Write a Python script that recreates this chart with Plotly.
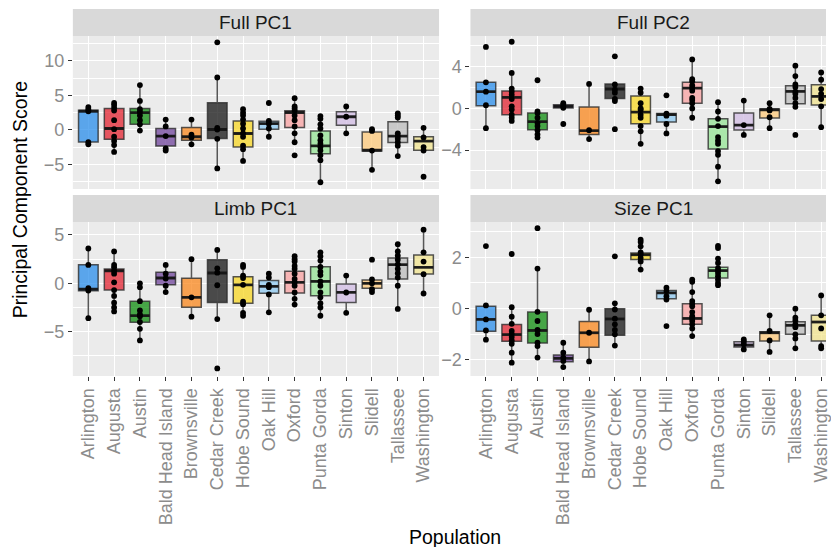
import plotly.graph_objects as go

# ---------------- data ----------------
POPULATIONS = ["Arlington", "Augusta", "Austin", "Bald Head Island", "Brownsville",
               "Cedar Creek", "Hobe Sound", "Oak Hill", "Oxford", "Punta Gorda",
               "Sinton", "Slidell", "Tallassee", "Washington"]

FILL_COLORS = [(42, 142, 235), (227, 35, 48), (15, 142, 15), (112, 68, 156),
               (249, 135, 28), (20, 20, 20), (248, 215, 35), (142, 202, 242),
               (249, 162, 162), (148, 228, 148), (209, 188, 228), (255, 202, 122),
               (188, 188, 188), (242, 228, 142)]

# Full PC1
FULL_PC1_POINTS = [
    [3.3, 3.0, 2.7, -1.8, -2.1],
    [3.9, 3.6, 3.2, 2.8, 1.4, 0.1, -1.0, -1.6, -2.2, -3.2],
    [6.5, 4.2, 3.0, 2.6, 2.1, 1.4, 0.8, -0.1],
    [1.5, 0.5, -0.9, -2.7, -3.0],
    [1.5, -0.7, -1.1, -2.1],
    [12.7, 7.6, 0.3, 0.05, -1.3, -5.6],
    [3.0, 2.5, 2.1, 1.5, 0.9, 0.2, -0.5, -1.0, -2.3, -2.8, -4.5],
    [3.9, 1.3, 0.9, 0.2, -1.0],
    [4.6, 3.4, 3.1, 2.8, 2.1, 1.4, 0.5, -0.5, -1.8, -3.7],
    [2.0, 1.6, 0.8, 0.2, -0.8, -1.5, -2.0, -2.5, -3.0, -3.7, -4.4, -7.6],
    [3.4, 1.9, -0.5],
    [0.1, -0.15, -3.0, -5.8],
    [2.4, 2.1, 1.8, -0.5, -0.9, -1.3, -1.8, -2.3, -3.8],
    [0.3, -1.1, -2.5, -3.0, -6.8],
]
FULL_PC1_Q1 = [-1.75, -1.36, 0.83, -2.33, -1.5, -1.26, -2.5, 0.1, 0.34, -3.45, 0.68, -3.06, -1.84, -2.94]
FULL_PC1_MED = [2.7, 0.2, 2.5, -0.92, -1.0, 0.05, -0.53, 0.92, 2.52, -2.33, 1.9, -2.96, -0.92, -1.64]
FULL_PC1_Q3 = [2.85, 3.1, 3.1, 0.19, 0.34, 3.93, 1.3, 1.26, 2.77, -0.15, 2.62, -0.3, 1.17, -1.01]
FULL_PC1_LO = [-2.1, -3.2, -0.1, -3.0, -2.1, -5.6, -4.5, -1.0, -1.8, -7.6, -0.5, -5.8, -3.8, -3.0]
FULL_PC1_HI = [3.3, 3.9, 6.5, 1.5, 1.5, 7.6, 3.0, 1.3, 4.6, 2.0, 3.4, 0.1, 2.4, 0.3]

# Full PC2
FULL_PC2_POINTS = [
    [5.9, 2.5, 1.6, 0.3, -1.9],
    [6.4, 3.4, 1.9, 1.6, 1.3, 0.9, 0.2, -0.1, -0.6, -0.9, -1.2],
    [2.7, -0.3, -0.45, -0.9, -1.4, -1.7, -2.1, -2.5, -2.8],
    [0.5, 0.35, 0.2, 0.05, -1.5],
    [2.35, -2.1, -2.95],
    [5.0, 2.3, 1.8, 1.5, 0.9, 0.7, -2.0],
    [1.9, 1.5, 0.5, 0.0, -0.15, -0.6, -0.9, -1.7, -2.2, -3.4],
    [1.25, -0.5, -0.7, -1.5, -2.4],
    [4.7, 2.8, 2.6, 2.2, 1.95, 1.7, 1.0, 0.8, 0.5, 0.0, -0.9],
    [0.6, -0.3, -1.0, -1.7, -2.75, -3.1, -3.4, -4.1, -4.45, -5.6, -7.0],
    [0.75, -1.6, -2.55],
    [0.5, -0.05, -0.2, -0.85, -1.9],
    [4.1, 3.1, 2.3, 2.05, 1.6, 1.4, 1.0, 0.5, 0.15, -2.55],
    [3.45, 2.75, 1.85, 1.4, 0.9, 0.2, -1.8],
]
FULL_PC2_Q1 = [0.26, -0.6, -2.05, 0.03, -2.5, 0.96, -1.47, -1.3, 0.5, -3.9, -2.07, -0.93, 0.45, 0.32]
FULL_PC2_MED = [1.6, 1.05, -1.28, 0.19, -2.14, 1.86, -0.35, -0.6, 1.95, -1.75, -1.6, -0.13, 1.63, 1.15]
FULL_PC2_Q3 = [2.5, 1.66, -0.45, 0.35, 0.13, 2.34, 1.2, -0.5, 2.5, -1.0, -0.45, -0.06, 2.18, 2.27]
FULL_PC2_LO = [-1.9, -1.2, -2.8, 0.03, -2.95, 0.96, -3.4, -2.4, -0.9, -7.0, -2.55, -1.9, 0.13, -1.8]
FULL_PC2_HI = [2.5, 3.4, -0.3, 0.5, 2.35, 2.34, 1.9, -0.5, 4.7, 0.6, 0.75, 0.5, 4.1, 3.45]

# Limb PC1
LIMB_PC1_POINTS = [
    [3.6, 1.9, -0.5, -0.75, -3.6],
    [3.3, 1.9, 1.65, 1.3, 1.0, 0.1, -0.7, -1.3, -2.0, -2.5, -2.9],
    [0.0, -0.4, -1.85, -2.8, -3.2, -3.4, -4.0, -4.7, -5.9],
    [1.9, 1.0, 0.5, -0.25, -0.9],
    [2.5, -1.45, -3.45],
    [3.45, 1.55, 1.1, -0.2, -3.7, -8.8],
    [1.9, 1.7, 0.8, 0.55, -0.15, -1.9, -2.15, -3.05, -3.35],
    [1.0, 0.6, -0.15, -0.4, -1.15, -3.0],
    [2.8, 2.5, 2.25, 1.8, 1.5, 1.0, 0.45, 0.1, -0.25, -0.95, -1.6, -2.2],
    [3.2, 2.8, 2.35, 1.7, 1.2, 0.85, 0.2, -0.25, -0.95, -1.45, -2.05, -2.5, -3.35],
    [0.8, -0.95, -3.05],
    [2.45, 0.4, 0.0, -0.6, -0.9],
    [4.05, 3.3, 2.85, 2.45, 1.95, 1.5, 1.05, 0.6, -0.25, -2.65],
    [5.55, 3.2, 2.25, 0.95, -1.05],
]
LIMB_PC1_Q1 = [-0.76, -0.69, -4.03, -0.14, -2.48, -1.97, -2.07, -1.03, -1.0, -1.28, -1.97, -0.52, 0.45, 0.97]
LIMB_PC1_MED = [-0.59, 1.3, -3.34, 0.55, -1.45, 1.07, -0.17, -0.31, 0.1, 0.2, -0.93, 0.0, 1.93, 1.65]
LIMB_PC1_Q3 = [1.93, 1.48, -1.86, 1.14, 0.52, 2.45, 0.69, 0.28, 1.24, 1.72, -0.07, 0.34, 2.62, 2.94]
LIMB_PC1_LO = [-3.6, -2.9, -5.9, -0.9, -3.45, -3.7, -3.35, -3.0, -2.2, -3.35, -3.05, -0.9, -2.65, -1.05]
LIMB_PC1_HI = [3.6, 3.3, 0.0, 1.9, 2.5, 3.45, 1.9, 1.0, 2.8, 3.2, 0.8, 0.4, 4.05, 5.55]

# Size PC1
SIZE_PC1_POINTS = [
    [2.44, 0.12, -0.43, -0.86, -1.22],
    [2.13, 0.05, -0.32, -0.6, -0.88, -1.0, -1.12, -1.25, -1.38, -1.73, -2.12],
    [3.14, 1.56, -0.13, -0.49, -0.84, -1.0, -1.34, -1.47, -1.92],
    [-1.34, -1.73, -1.92, -2.05, -2.29],
    [-0.05, -0.95, -2.07],
    [2.04, 0.2, -0.04, -0.4, -0.62, -0.84, -1.01, -1.45],
    [2.69, 2.6, 2.43, 2.19, 2.1, 1.97, 1.84, 1.52],
    [0.81, 0.68, 0.48, 0.35, -0.69],
    [1.13, 1.04, 0.64, 0.29, 0.18, 0.09, -0.14, -0.3, -0.39, -0.49, -0.62, -0.78, -1.08],
    [2.45, 2.36, 1.95, 1.78, 1.58, 1.48, 1.39, 1.26, 1.13, 1.0, 0.91],
    [-1.21, -1.3, -1.4, -1.6],
    [-0.27, -0.88, -1.25, -1.7],
    [-0.01, -0.36, -0.47, -0.62, -0.73, -1.01, -1.17, -1.56],
    [0.51, -0.27, -0.78, -1.47, -1.56],
]
SIZE_PC1_Q1 = [-0.89, -1.28, -1.35, -2.08, -1.52, -1.05, 1.91, 0.38, -0.62, 1.19, -1.51, -1.27, -1.01, -1.27]
SIZE_PC1_MED = [-0.43, -1.02, -0.86, -1.95, -0.95, -0.41, 2.1, 0.61, -0.39, 1.48, -1.43, -0.95, -0.66, -0.53]
SIZE_PC1_Q3 = [0.09, -0.63, -0.14, -1.82, -0.51, -0.01, 2.17, 0.7, 0.18, 1.61, -1.3, -0.91, -0.52, -0.27]
SIZE_PC1_LO = [-1.22, -2.12, -1.92, -2.29, -2.07, -1.45, 1.52, 0.35, -1.08, 0.91, -1.6, -1.7, -1.56, -1.56]
SIZE_PC1_HI = [0.12, 0.05, 1.56, -1.34, -0.05, 0.2, 2.69, 0.81, 1.13, 1.95, -1.21, -0.27, -0.01, 0.51]

PANEL_TITLES = ["Full PC1", "Full PC2", "Limb PC1", "Size PC1"]
Y_RANGES = [[-8.58, 13.62], [-7.74, 6.95], [-9.58, 6.34], [-2.64, 3.38]]
Y_DTICKS = [5, 4, 5, 2]

# ---------------- layout geometry (pixels) ----------------
W, H = 831, 547
LEFT_X = (73.3, 441.7)
RIGHT_X = (473.3, 841.7)       # full panel width, clipped by the window at 831
TOP_Y = (36, 189)
BOT_Y = (222, 376)
STRIP_H = 27

FONT = "Liberation Sans, Arial, Helvetica, sans-serif"
TICK_COLOR = "#8c8c8c"

panels = [
    dict(title=PANEL_TITLES[0], pts=FULL_PC1_POINTS, q1=FULL_PC1_Q1, med=FULL_PC1_MED,
         q3=FULL_PC1_Q3, lo=FULL_PC1_LO, hi=FULL_PC1_HI, xs=LEFT_X, ys=TOP_Y, bottom=False),
    dict(title=PANEL_TITLES[1], pts=FULL_PC2_POINTS, q1=FULL_PC2_Q1, med=FULL_PC2_MED,
         q3=FULL_PC2_Q3, lo=FULL_PC2_LO, hi=FULL_PC2_HI, xs=RIGHT_X, ys=TOP_Y, bottom=False),
    dict(title=PANEL_TITLES[2], pts=LIMB_PC1_POINTS, q1=LIMB_PC1_Q1, med=LIMB_PC1_MED,
         q3=LIMB_PC1_Q3, lo=LIMB_PC1_LO, hi=LIMB_PC1_HI, xs=LEFT_X, ys=BOT_Y, bottom=True),
    dict(title=PANEL_TITLES[3], pts=SIZE_PC1_POINTS, q1=SIZE_PC1_Q1, med=SIZE_PC1_MED,
         q3=SIZE_PC1_Q3, lo=SIZE_PC1_LO, hi=SIZE_PC1_HI, xs=RIGHT_X, ys=BOT_Y, bottom=True),
]

n = len(POPULATIONS)
BOX_W = 0.76
px_per_unit = (LEFT_X[1] - LEFT_X[0]) / (n - 1 + 1.2)

fig = go.Figure()
layout = dict(
    width=W, height=H, autosize=False,
    margin=dict(l=0, r=0, t=0, b=0, pad=0),
    paper_bgcolor="white", plot_bgcolor="#ebebeb",
    showlegend=False, boxmode="overlay",
    font=dict(family=FONT),
    shapes=[], annotations=[],
)

for k, p in enumerate(panels):
    sfx = "" if k == 0 else str(k + 1)
    xa, ya = "x" + sfx, "y" + sfx
    x0, x1 = p["xs"]
    x1c = min(x1, W)
    y0, y1 = p["ys"]
    xmax = 0.4 + (x1c - x0) / px_per_unit

    for j in range(n):
        r, g, b = FILL_COLORS[j]
        fig.add_trace(go.Box(
            x=[j + 1], q1=[p["q1"][j]], median=[p["med"][j]], q3=[p["q3"][j]],
            lowerfence=[p["lo"][j]], upperfence=[p["hi"][j]],
            width=BOX_W, whiskerwidth=0, boxpoints=False,
            fillcolor=f"rgba({r},{g},{b},0.75)",
            line=dict(color="rgba(45,45,45,0.8)", width=1.5),
            xaxis=xa, yaxis=ya, hoverinfo="skip", showlegend=False,
        ))
    mx, my = [], []
    for j in range(n):
        mx += [j + 1 - BOX_W / 2, j + 1 + BOX_W / 2, None]
        my += [p["med"][j], p["med"][j], None]
    fig.add_trace(go.Scatter(x=mx, y=my, mode="lines",
                             line=dict(color="rgba(20,20,20,0.9)", width=2.8),
                             xaxis=xa, yaxis=ya, hoverinfo="skip", showlegend=False))
    px_, py_ = [], []
    for j in range(n):
        px_ += [j + 1] * len(p["pts"][j])
        py_ += p["pts"][j]
    fig.add_trace(go.Scatter(x=px_, y=py_, mode="markers",
                             marker=dict(color="black", size=5.8, line=dict(width=0)),
                             xaxis=xa, yaxis=ya, hoverinfo="skip", showlegend=False))

    layout["xaxis" + sfx] = dict(
        domain=[x0 / W, x1c / W], anchor=ya, range=[0.4, xmax],
        tickmode="array", tickvals=list(range(1, n + 1)), ticktext=POPULATIONS,
        tickangle=-90, showticklabels=p["bottom"], ticklabeloverflow="allow",
        ticks="outside" if p["bottom"] else "", ticklen=4, tickwidth=1.2, tickcolor="#333333",
        tickfont=dict(size=18, color=TICK_COLOR, family=FONT),
        showgrid=True, gridcolor="white", gridwidth=1.3, zeroline=False, showline=False,
    )
    dt = Y_DTICKS[k]
    layout["yaxis" + sfx] = dict(
        domain=[1 - y1 / H, 1 - y0 / H], anchor=xa, range=Y_RANGES[k],
        tick0=0, dtick=dt, ticks="outside", ticklen=4, tickwidth=1.2, tickcolor="#333333",
        tickfont=dict(size=18, color=TICK_COLOR, family=FONT),
        showgrid=True, gridcolor="white", gridwidth=1.3, zeroline=False, showline=False,
        minor=dict(tick0=0, dtick=dt / 2, showgrid=True, gridcolor="white", gridwidth=0.6, ticks=""),
    )
    # strip
    layout["shapes"].append(dict(type="rect", xref="paper", yref="paper",
                                 x0=x0 / W, x1=x1c / W, y0=1 - y0 / H, y1=1 - (y0 - STRIP_H) / H,
                                 fillcolor="#d9d9d9", line=dict(width=0), layer="below"))
    layout["annotations"].append(dict(text=p["title"], xref="paper", yref="paper",
                                      x=(x0 + x1) / 2 / W, y=1 - (y0 - STRIP_H / 2) / H,
                                      xanchor="center", yanchor="middle", showarrow=False,
                                      font=dict(size=19, color="#1a1a1a", family=FONT)))

layout["annotations"].append(dict(text="Principal Component Score", xref="paper", yref="paper",
                                  x=21 / W, y=1 - 199.5 / H, textangle=-90,
                                  xanchor="center", yanchor="middle", showarrow=False,
                                  font=dict(size=19.5, color="black", family=FONT)))
layout["annotations"].append(dict(text="Population", xref="paper", yref="paper",
                                  x=(LEFT_X[0] + RIGHT_X[1]) / 2 / W, y=1 - 537 / H,
                                  xanchor="center", yanchor="middle", showarrow=False,
                                  font=dict(size=19.5, color="black", family=FONT)))

fig.update_layout(**layout)
fig.write_html("out.html", config={"displayModeBar": False})
